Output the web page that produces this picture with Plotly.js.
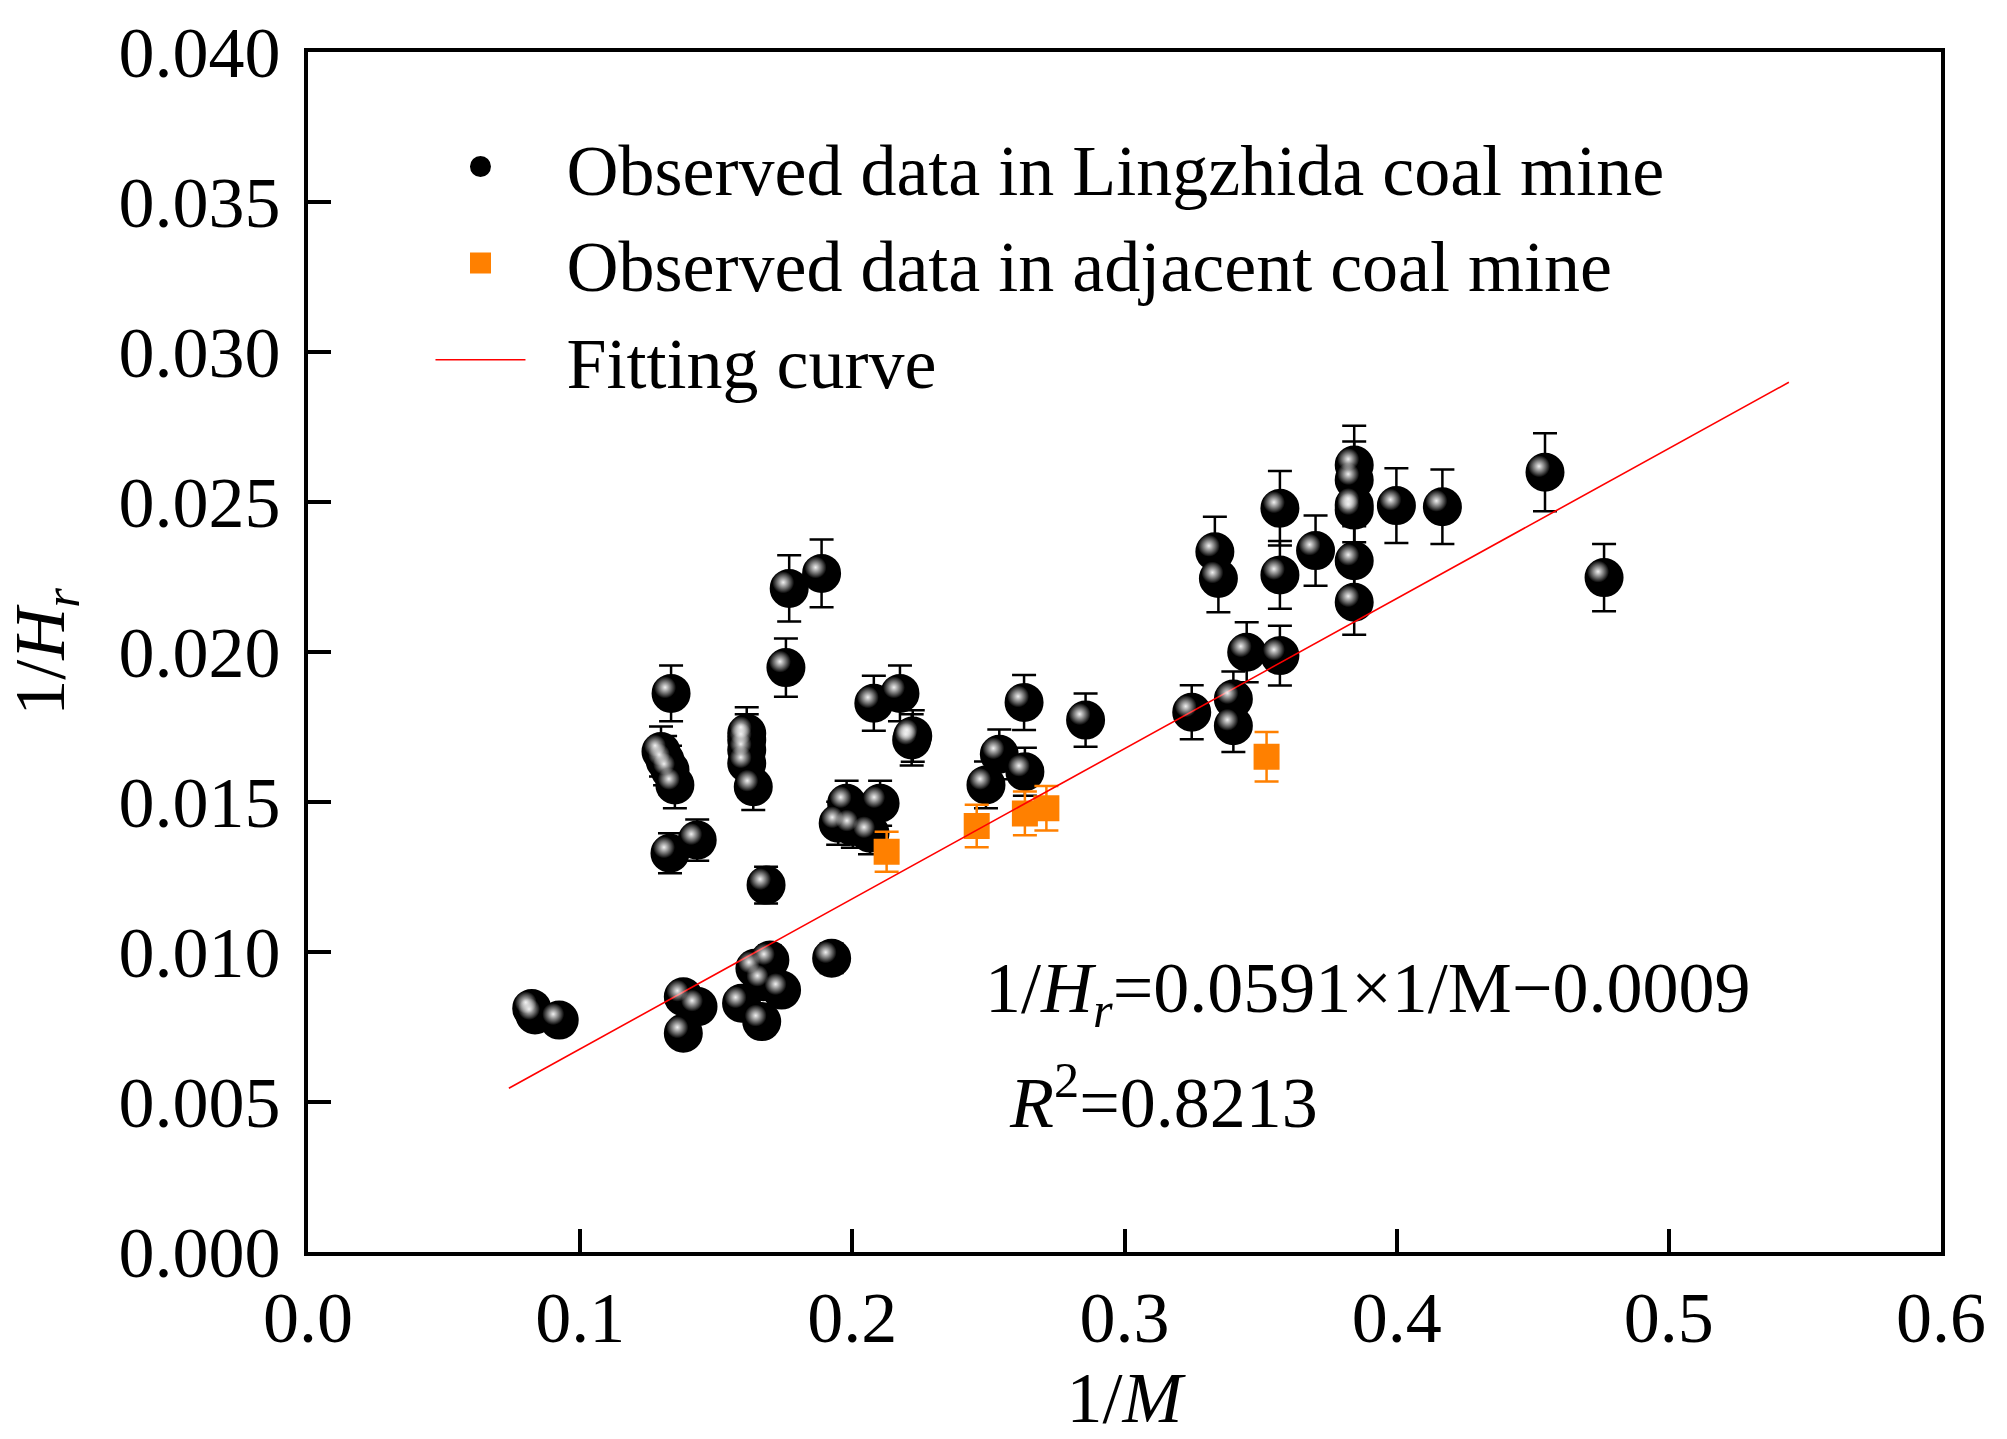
<!DOCTYPE html>
<html>
<head>
<meta charset="utf-8">
<script src="https://cdn.plot.ly/plotly-3.0.1.min.js"></script>
<style>
html,body{margin:0;padding:0;background:#fff;}
#chart{width:2007px;height:1439px;}
</style>
</head>
<body>
<div id="chart"></div>
<script>
// Observed data in Lingzhida coal mine (1/M, 1/Hr)
const lzX = [0.0822,0.0834,0.0923,0.1297,0.1312,0.1330,0.1348,0.1334,0.1330,0.1430,
             0.1379,0.1433,0.1379,0.1593,0.1667,0.1697,0.1642,0.1673,0.1740,0.1924,
             0.1683,0.1612,0.1612,0.1612,0.1612,0.1636,0.1756,0.1768,0.1887,0.1948,
             0.1979,0.2002,0.2065,0.2102,0.2079,0.2175,0.2222,0.2218,0.2491,0.2540,
             0.2634,0.2631,0.2857,0.3247,0.3332,0.3345,0.3400,0.3400,0.3449,0.3571,
             0.3571,0.3571,0.3702,0.3844,0.3844,0.3844,0.3844,0.3844,0.3844,0.3999,
             0.4168,0.4545,0.4762];
const lzY = [0.00812,0.00790,0.00773,0.01668,0.01638,0.01607,0.01557,0.01862,0.01329,0.01373,
             0.00851,0.00818,0.00729,0.00829,0.00768,0.00973,0.00946,0.00901,0.00873,0.00979,
             0.01223,0.01729,0.01707,0.01673,0.01629,0.01551,0.01948,0.02212,0.02262,0.01429,
             0.01496,0.01418,0.01396,0.01496,0.01829,0.01862,0.01720,0.01707,0.01557,0.01659,
             0.01601,0.01832,0.01773,0.01799,0.02334,0.02245,0.01843,0.01754,0.01999,0.02479,
             0.02257,0.01988,0.02338,0.02623,0.02573,0.02490,0.02473,0.02304,0.02166,0.02488,
             0.02484,0.02599,0.02248];
// Observed data in adjacent coal mine
const adjX = [0.2126,0.2457,0.2634,0.2713,0.3522];
const adjY = [0.01334,0.01420,0.01462,0.01479,0.01651];
// Fitting curve as drawn
const fitX = [0.0738,0.5441];
const fitY = [0.00546,0.02899];
// Ticks
const xTickVals = [0,0.1,0.2,0.3,0.4,0.5,0.6];
const xTickText = ['0.0','0.1','0.2','0.3','0.4','0.5','0.6'];
const yTickVals = [0,0.005,0.010,0.015,0.020,0.025,0.030,0.035,0.040];
const yTickText = ['0.000','0.005','0.010','0.015','0.020','0.025','0.030','0.035','0.040'];
// Legend labels
const seriesNames = ['Observed data in Lingzhida coal mine','Observed data in adjacent coal mine','Fitting curve'];

const FONT = '"Liberation Serif", "Times New Roman", serif';
const BLACK = '#000000';
const ORANGE = '#FF8000';
const PAD = '\u2002';

const traces = [
  {
    type:'scatter', mode:'markers', name:PAD + seriesNames[0],
    x: lzX, y: lzY,
    marker:{symbol:'circle', size:34, color:BLACK, line:{width:5, color:BLACK}},
    error_y:{type:'percent', value:5, color:BLACK, thickness:2.5, width:12, visible:true}
  },
  {
    type:'scatter', mode:'markers', name:'highlight', showlegend:false, hoverinfo:'skip',
    x: lzX, y: lzY, xaxis:'x2', yaxis:'y2',
    marker:{symbol:'circle', size:22, color:'rgba(255,255,255,0)', line:{width:0},
            gradient:{type:'radial', color:'rgba(240,240,240,1)'}}
  },
  {
    type:'scatter', mode:'markers', name:PAD + seriesNames[1],
    x: adjX, y: adjY,
    marker:{symbol:'square', size:21, color:ORANGE, line:{width:5, color:ORANGE}},
    error_y:{type:'percent', value:5, color:ORANGE, thickness:2.5, width:12, visible:true}
  },
  {
    type:'scatter', mode:'lines', name:PAD + seriesNames[2],
    x: fitX, y: fitY,
    line:{color:'#FF0000', width:1.6}
  }
];

const axisCommon = {
  showgrid:false, zeroline:false, showline:true, linecolor:BLACK, linewidth:4,
  mirror:true, ticks:'inside', ticklen:23, tickwidth:4, tickcolor:BLACK,
  tickfont:{family:FONT, size:72, color:BLACK}, automargin:false
};

const layout = {
  width:2007, height:1439,
  margin:{l:308, r:66, t:52, b:187, pad:0},
  paper_bgcolor:'#ffffff', plot_bgcolor:'#ffffff',
  font:{family:FONT, size:72, color:BLACK},
  showlegend:true,
  xaxis:Object.assign({}, axisCommon, {
    range:[0,0.6], tickvals:xTickVals, ticktext:xTickText, ticklabelstandoff:0,
    title:{text:'1/<i>M</i>', font:{family:FONT, size:72, color:BLACK}, standoff:5}
  }),
  yaxis:Object.assign({}, axisCommon, {
    range:[0,0.04], tickvals:yTickVals, ticktext:yTickText, ticklabelstandoff:9,
    title:{text:'1/<i>H</i><sub><i>r</i></sub>', font:{family:FONT, size:72, color:BLACK}, standoff:38}
  }),
  xaxis2:{overlaying:'x', range:[0.0022,0.6022], visible:false, fixedrange:true},
  yaxis2:{overlaying:'y', range:[-0.0002,0.0398], visible:false, fixedrange:true},
  legend:{
    x:0.075, y:0.949, xanchor:'left', yanchor:'top',
    bgcolor:'rgba(0,0,0,0)', borderwidth:0,
    font:{family:FONT, size:72, color:BLACK},
    itemwidth:90, tracegroupgap:0, itemsizing:'trace'
  },
  annotations:[
    {text:'1/<i>H</i><sub><i>r</i></sub>=0.0591×1/M−0.0009', x:0.248, y:0.00863, xref:'x', yref:'y',
     xanchor:'left', yanchor:'middle', showarrow:false, font:{family:FONT, size:72, color:BLACK}},
    {text:'<i>R</i><sup>2</sup>=0.8213', x:0.2568, y:0.00516, xref:'x', yref:'y',
     xanchor:'left', yanchor:'middle', showarrow:false, font:{family:FONT, size:72, color:BLACK}}
  ]
};

Plotly.newPlot('chart', traces, layout, {displayModeBar:false, staticPlot:true});
</script>
</body>
</html>
